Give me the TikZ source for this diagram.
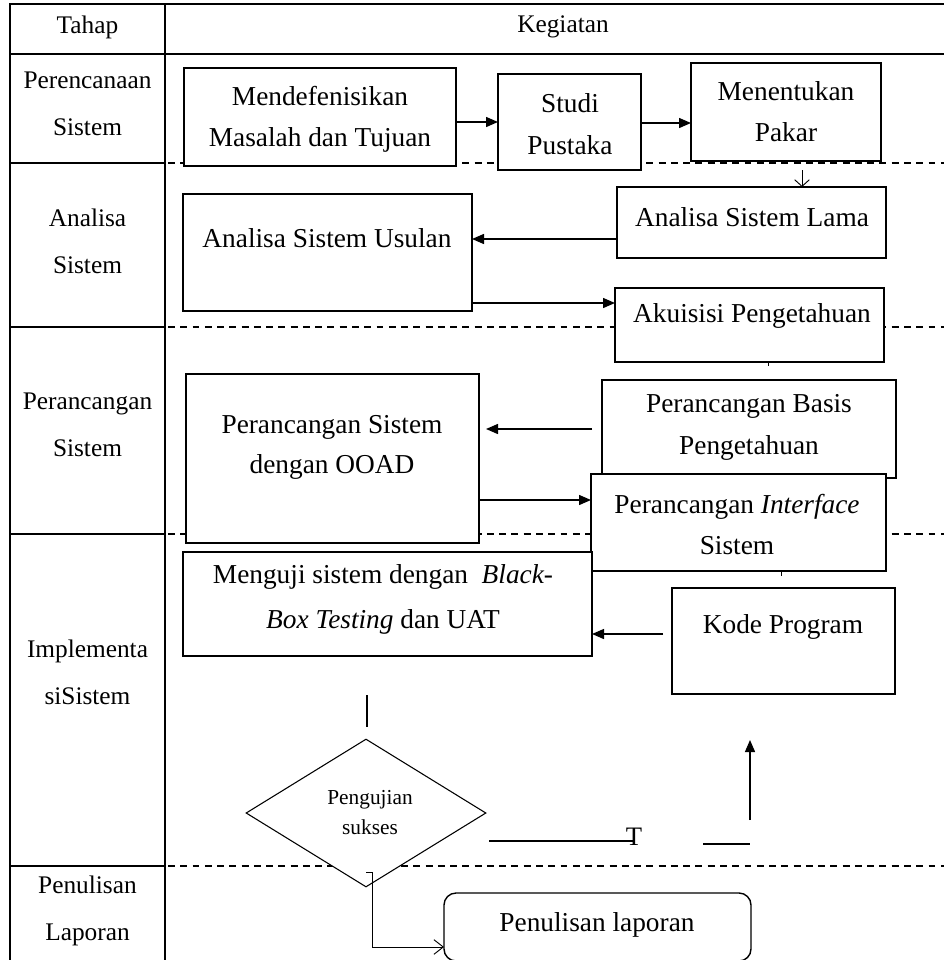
\documentclass[tikz,border=0pt]{standalone}
\usepackage{fontspec}
\setmainfont{Liberation Serif}
\usetikzlibrary{arrows.meta,shapes.geometric,fit,calc}

\begin{document}
\begin{tikzpicture}[x=0.75pt,y=-0.75pt,
  grid/.style={line width=0.9pt},
  sep/.style={line width=0.9pt, dash pattern=on 5.2pt off 4pt},
  box/.style={draw, fill=white, line width=1.05pt, inner sep=0pt, outer sep=0pt},
  lbl/.style={font=\fontsize{20.5}{31}\selectfont, align=center, inner sep=0pt},
  hd/.style={font=\fontsize{19}{35}\selectfont, align=center, inner sep=0pt},
  link/.style={line width=1.05pt, -{Triangle[length=9pt,width=7.5pt]}},
  plain/.style={line width=1pt},
  thin/.style={line width=0.7pt},
]
\useasboundingbox (0,0) rectangle (944,960);
\fill[white] (0,0) rectangle (944,960);

% table frame and phase separators
\draw[grid] (944,4) -- (10,4) -- (10,962);
\draw[grid] (165,4) -- (165,962);
\draw[grid] (10,54) -- (944,54);
\foreach \y in {163,327,534,866} {
  \draw[grid] (10,\y) -- (165,\y);
  \draw[sep] (168,\y) -- (944,\y);
}

% column headers and phase names
\node[hd] (hTahap) at (87.5,27) {Tahap};
\node[hd] (hKeg) at (563,27) {Kegiatan};
\node[hd] (p1) at (87.5,103.5) {Perencanaan\\Sistem};
\node[hd] (p2) at (87.5,241) {Analisa\\Sistem};
\node[hd] (p3) at (87.5,425) {Perancangan\\Sistem};
\node[hd] (p4) at (87.5,672) {Implementa\\siSistem};
\node[hd] (p5) at (87.5,911) {Penulisan\\Laporan};

% perencanaan
\node[box, fit={(184,68)(456,166)}] (mdef) {};
\node[lbl] (mdefT) at (320,119) {Mendefenisikan\\Masalah dan Tujuan};
\node[box, fit={(498,74)(641,170)}] (studi) {};
\node[lbl] (studiT) at (570,124) {Studi\\Pustaka};
\node[box, fit={(691,63)(881,161)}] (pakar) {};
\node[lbl] (pakarT) at (786,111.5) {Menentukan\\Pakar};

% analisa
\node[box, fit={(617,187)(886,258)}] (lama) {};
\node[lbl] (lamaT) at (752,217) {Analisa Sistem Lama};
\node[box, fit={(183,194)(472,311)}] (usulan) {};
\node[lbl] (usulanT) at (327,238) {Analisa Sistem Usulan};
\node[box, fit={(615,288)(884,362)}] (akuisisi) {};
\node[lbl] (akuisisiT) at (752,316) {Akuisisi Pengetahuan};

% perancangan
\node[box, fit={(186,374)(479,543)}] (ooad) {};
\node[lbl, font=\fontsize{20.5}{29.5}\selectfont] (ooadT) at (332,447.5) {Perancangan Sistem\\dengan OOAD};
\node[box, fit={(602,380)(896,478)}] (basis) {};
\node[lbl] (basisT) at (749,427.5) {Perancangan Basis\\Pengetahuan};
\node[box, fit={(591,474)(886,571)}] (iface) {};
\node[lbl] (ifaceT) at (737,524.5) {Perancangan \textit{Interface}\\Sistem};

% implementasi
\node[box, fit={(183,552)(592,656)}] (uji) {};
\node[lbl, font=\fontsize{20.5}{34}\selectfont] (ujiT) at (383,599.5) {Menguji sistem dengan\ \ \textit{Black-}\\\textit{Box Testing} dan UAT};
\node[box, fit={(672,588)(895,694)}] (kode) {};
\node[lbl] (kodeT) at (783,627) {Kode Program};
\node[diamond, draw, fill=white, line width=0.8pt, inner sep=0pt,
      minimum width=240*0.75pt, minimum height=148*0.75pt] (dia) at (366,813) {};
\node[inner sep=0pt, align=center, font=\fontsize{16}{22.5}\selectfont] (diaT) at (370,813) {Pengujian\\sukses};

% penulisan laporan
\node[box, rounded corners=9pt, fit={(444,893)(751,961)}] (lap) {};
\node[lbl] (lapT) at (597,925) {Penulisan laporan};

% connectors
\draw[link] (mdef.east |- 0,122) -- (studi.west |- 0,122);
\draw[link] (studi.east |- 0,123) -- (pakar.west |- 0,123);
\draw[thin, -{Straight Barb[length=5pt,width=11pt]}] ($(pakar.south)+(16,9)$) -- (lama.north -| 802,0);
\draw[link] (lama.west |- 0,239) -- (usulan.east |- 0,239);
\draw[link] (usulan.east |- 0,303) -- (akuisisi.west |- 0,303);
\draw[thin] (akuisisi.south -| 768,0) -- ++(0,4);
\draw[link, shorten <=10*0.75pt, shorten >=7*0.75pt] (basis.west |- 0,429) -- (ooad.east |- 0,429);
\draw[link] (ooad.east |- 0,500) -- (iface.west |- 0,500);
\draw[thin] (iface.south -| 781,0) -- ++(0,5);
\draw[link, shorten <=9*0.75pt] (kode.west |- 0,634) -- (uji.east |- 0,634);

% loop back from the decision
\coordinate (ujiLow) at (367,695);
\coordinate (diaHigh) at (367,727);
\draw[plain] (ujiLow) -- (diaHigh);
\node[inner sep=0pt, font=\fontsize{20}{20}\selectfont] (tLbl) at (634,837) {T};
\coordinate (tFrom) at (489,841);
\draw[plain] (tFrom) -- (tLbl.center |- tFrom);
\coordinate (retA) at (703,844);
\coordinate (retB) at (750,844);
\draw[plain] (retA) -- (retB);
\coordinate (upS) at (750,820);
\coordinate (upE) at (750,740);
\draw[link] (upS) -- (upE);
\draw[thin, -{Straight Barb[length=7pt,width=11pt]}] (366,872) -- (372,872) -- (372,947) -- (lap.west |- 0,947);
\end{tikzpicture}
\end{document}
